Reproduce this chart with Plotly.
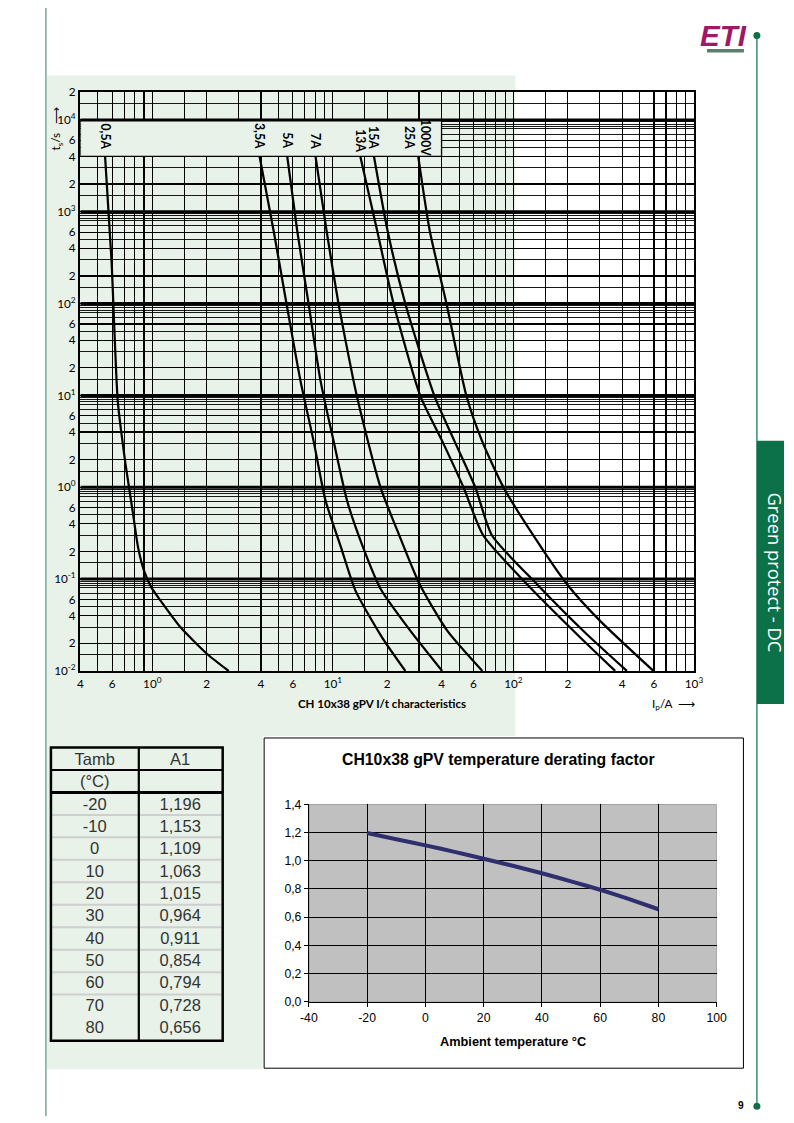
import plotly.graph_objects as go
import math

# The photographed page is mapped as screen = offset + scale * page; compensate so that
# every element lands on its position in the 794x1123 reference.
W, H = 794, 1123
SX, OX = 0.9775, 8.0
SY, OY = 0.986, 7.5
K = 1 / 0.98  # font / width compensation
def px(x): return (x - OX) / SX / W
def py(y): return 1 - (y - OY) / SY / H

# ---------------- Data: I/t characteristics (Ip in A, t in s) ----------------
ratings = ["0,5A", "3,5A", "5A", "7A", "13A", "15A", "1000V<br>25A"]

i_05 = [0.548, 0.595, 0.644, 0.707, 0.744, 0.783, 0.835, 0.901, 0.99, 1.114, 1.438, 2.02, 2.65]
t_05 = [4000, 292, 8.73, 1.94, 0.99, 0.509, 0.220, 0.1228, 0.0808, 0.0579, 0.02965, 0.0152, 0.01]

i_35 = [3.93, 4.70, 5.54, 6.62, 7.82, 9.12, 11.03, 13.36, 18.8, 25.2]
t_35 = [4000, 621, 99.6, 14.4, 3.2, 0.711, 0.230, 0.0744, 0.0229, 0.01]

i_5 = [5.59, 6.35, 7.34, 8.55, 10.09, 12.0, 14.6, 18.4, 26.9, 40.3]
t_5 = [4000, 621, 99.6, 14.4, 3.2, 0.711, 0.230, 0.0781, 0.0273, 0.01]

i_7 = [8.02, 9.23, 10.75, 13.02, 14.2, 18.4, 22.8, 30.2, 43.1, 67.3]
t_7 = [4000, 621, 99.6, 14.4, 6.79, 0.985, 0.335, 0.0886, 0.0273, 0.01]

i_13 = [14.2, 17.6, 21.7, 30.5, 40.3, 53.0, 68.0, 118.9, 224.8, 366]
t_13 = [4000, 621, 99.6, 9.9, 3.2, 0.99, 0.30, 0.088, 0.0251, 0.01]

i_15 = [16.9, 20.1, 25.2, 36.5, 47.1, 61.6, 76.0, 135, 255, 425]
t_15 = [4000, 621, 99.6, 9.9, 3.2, 0.99, 0.30, 0.088, 0.0251, 0.01]

i_25 = [29.7, 34.4, 42.6, 54.9, 67.0, 88.3, 135, 198, 302, 596]
t_25 = [4000, 621, 99.6, 9.9, 3.2, 0.99, 0.2606, 0.088, 0.0351, 0.01]

curves_i = [i_05, i_35, i_5, i_7, i_13, i_15, i_25]
curves_t = [t_05, t_35, t_5, t_7, t_13, t_15, t_25]

# tick labels of the log chart
x_tickvals = [0.4, 0.6, 1, 2, 4, 6, 10, 20, 40, 60, 100, 200, 400, 600, 1000]
x_ticktext = ["4", "6", "10<sup>0</sup>", "2", "4", "6", "10<sup>1</sup>", "2", "4", "6",
              "10<sup>2</sup>", "2", "4", "6", "10<sup>3</sup>"]
y_decades = [-2, -1, 0, 1, 2, 3, 4]
y_mant_labels = [2, 4, 6]
x_minor_mant = [1.5, 3, 5, 7, 8, 9]
y_minor_mant = [1.5, 3, 5, 7, 8, 8.5, 9, 9.5]

# ---------------- Data: temperature derating ----------------
tamb = [-20, -10, 0, 10, 20, 30, 40, 50, 60, 70, 80]
a1 = [1.196, 1.153, 1.109, 1.063, 1.015, 0.964, 0.911, 0.854, 0.794, 0.728, 0.656]
x2_ticks = [-40, -20, 0, 20, 40, 60, 80, 100]

# ---------------- styling ----------------
GREEN_BG = "#e8f2e8"
DARK_GREEN = "#0d6e48"
COND = "Lato, Liberation Sans Narrow, sans-serif"
ARIAL = "Liberation Sans, Arial, sans-serif"

y_tickvals, y_ticktext = [], []
for d in y_decades:
    y_tickvals.append(10 ** d)
    y_ticktext.append(f"10<sup>{d}</sup>")
    if d < 4:
        for m in y_mant_labels:
            y_tickvals.append(m * 10 ** d)
            y_ticktext.append(str(m))
y_tickvals.append(2e4)
y_ticktext.append("2")

x_minor = []
for d in [-1, 0, 1, 2]:
    for m in x_minor_mant:
        v = m * 10 ** d
        if 0.4 < v < 1000:
            x_minor.append(v)
y_minor = []
for d in [-2, -1, 0, 1, 2, 3, 4]:
    for m in y_minor_mant:
        v = m * 10 ** d
        if v < 2e4:
            y_minor.append(v)

fig = go.Figure()

for ii, tt in zip(curves_i, curves_t):
    fig.add_trace(go.Scatter(x=ii, y=tt, mode="lines", xaxis="x", yaxis="y",
                             line=dict(color="black", width=2.2 * K, shape="spline", smoothing=0.6),
                             hoverinfo="skip", showlegend=False))

fig.add_trace(go.Scatter(x=tamb, y=a1, mode="lines", xaxis="x2", yaxis="y2",
                         line=dict(color="#2f2f70", width=4 * K, shape="spline", smoothing=0.5),
                         hoverinfo="skip", showlegend=False))

TX0, TX1, TXM = 50, 222, 138
TY0, TY1 = 746.5, 1039.5
rh = 22.45
TSHIFT = 3
CELL_H = 22.35

fig.add_trace(go.Table(
    domain=dict(x=[px(TX0), px(TX1)], y=[py(TY1 - TSHIFT), py(TY0 - TSHIFT)]),
    columnwidth=[88, 84],
    header=dict(values=["Tamb", "A1"], height=CELL_H, align="center",
                fill=dict(color="rgba(0,0,0,0)"), line=dict(color="rgba(0,0,0,0)", width=0),
                font=dict(family=ARIAL, size=16.5, color="#333333")),
    cells=dict(values=[["(°C)"] + [str(t) for t in tamb],
                       [""] + [f"{v:.3f}".replace(".", ",") for v in a1]],
               height=CELL_H, align="center",
               fill=dict(color="rgba(0,0,0,0)"), line=dict(color="rgba(0,0,0,0)", width=0),
               font=dict(family=ARIAL, size=16.5, color="#333333")),
))

shapes = []
# page decorations
shapes.append(dict(type="rect", xref="paper", yref="paper", x0=px(46), x1=px(515), y0=py(735), y1=py(75),
                   fillcolor=GREEN_BG, line=dict(width=0), layer="below"))
shapes.append(dict(type="rect", xref="paper", yref="paper", x0=px(46), x1=px(262), y0=py(1068), y1=py(735),
                   fillcolor=GREEN_BG, line=dict(width=0), layer="below"))
shapes.append(dict(type="line", xref="paper", yref="paper", x0=px(45), x1=px(45), y0=0, y1=1,
                   line=dict(color="#2e7d5a", width=1), layer="below"))
shapes.append(dict(type="line", xref="paper", yref="paper", x0=px(757), x1=px(757), y0=py(1105), y1=py(35),
                   line=dict(color=DARK_GREEN, width=1.2), layer="below"))
for yc in [35, 1105]:
    shapes.append(dict(type="circle", xref="paper", yref="paper", x0=px(753.5), x1=px(760.5),
                       y0=py(yc + 3.5), y1=py(yc - 3.5), fillcolor=DARK_GREEN, line=dict(width=0)))
shapes.append(dict(type="rect", xref="paper", yref="paper", x0=px(757), x1=1, y0=py(703), y1=py(440),
                   fillcolor="#0c7049", line=dict(width=0), layer="below"))
shapes.append(dict(type="rect", xref="paper", yref="paper", x0=px(707), x1=px(744), y0=py(52), y1=py(48.5),
                   fillcolor="#5b7f6c", line=dict(width=0)))

# derating chart frame and plot area
shapes.append(dict(type="rect", xref="paper", yref="paper", x0=px(263.5), x1=px(743.5), y0=py(1067), y1=py(737),
                   fillcolor="white", line=dict(color="black", width=1), layer="below"))
shapes.append(dict(type="rect", xref="x2", yref="y2", x0=-40, x1=100, y0=0, y1=1.4,
                   fillcolor="#c0c0c0", line=dict(color="#808080", width=1), layer="below"))

# table rules
for k in range(3, 12):
    yy = TY0 + rh * k
    shapes.append(dict(type="line", xref="paper", yref="paper", x0=px(TX0 + 1), x1=px(TX1 - 1),
                       y0=py(yy), y1=py(yy), line=dict(color="#cfcfcf", width=2)))
shapes.append(dict(type="line", xref="paper", yref="paper", x0=px(TX0), x1=px(TX1),
                   y0=py(TY0 + rh), y1=py(TY0 + rh), line=dict(color="black", width=2)))
shapes.append(dict(type="line", xref="paper", yref="paper", x0=px(TX0), x1=px(TX1),
                   y0=py(TY0 + 2 * rh), y1=py(TY0 + 2 * rh), line=dict(color="black", width=3)))
shapes.append(dict(type="line", xref="paper", yref="paper", x0=px(TXM), x1=px(TXM),
                   y0=py(TY1), y1=py(TY0), line=dict(color="black", width=2.2)))
shapes.append(dict(type="rect", xref="paper", yref="paper", x0=px(TX0), x1=px(TX1),
                   y0=py(TY1), y1=py(TY0), line=dict(color="black", width=2.5)))

# log chart: label box and decade lines
shapes.append(dict(type="rect", xref="x", yref="y", x0=0.4, x1=40, y0=4000, y1=10000,
                   fillcolor=GREEN_BG, line=dict(color="black", width=1.3), layer="between"))
for d in y_decades[1:]:
    shapes.append(dict(type="line", xref="x", yref="y", x0=0.4, x1=1000, y0=10 ** d, y1=10 ** d,
                       line=dict(color="black", width=3), layer="between"))

def ann(text, x, y, size, family=COND, color="black", angle=0, xref="paper"):
    return dict(text=text, x=x, y=y, xref=xref, yref="paper", textangle=angle, showarrow=False,
                xanchor="center", yanchor="middle", font=dict(family=family, size=size * K, color=color))

annotations = []
label_y = [136, 135, 140, 140, 140, 137.5, 136.5]
for name, ii, ly in zip(ratings, curves_i, label_y):
    annotations.append(ann(f"<b>{name}</b>", math.log10(ii[0]), py(ly), 12, angle=90, xref="x"))
annotations += [
    ann("<b>CH 10x38 gPV I/t characteristics</b>", px(382), py(703), 11.3),
    ann("I<sub>p</sub>/A  ⟶", px(673), py(703), 11.5),
    ann("t<sub>s</sub>/s   ⟶", px(55), py(128), 11.5, angle=-90),
    ann("<b>CH10x38 gPV temperature derating factor</b>", px(498), py(759), 15.5, family=ARIAL),
    ann("<b>Ambient temperature °C</b>", px(513), py(1040), 12.5, family=ARIAL),
    ann("Green protect - DC", px(775.5), py(572), 18, family="Open Sans, sans-serif", color="white", angle=90),
    ann("<b><i>ETI</i></b>", px(724), py(35), 29, family=ARIAL, color="#9c1a68"),
    ann("<b>9</b>", px(741), py(1104), 10, family=ARIAL),
]

grid_kw = dict(showgrid=True, gridcolor="black", gridwidth=1.2, zeroline=False,
               showline=True, linecolor="black", linewidth=2.5, mirror=True, ticks="")

fig.update_layout(
    width=W, height=H, autosize=False, margin=dict(l=0, r=0, t=0, b=0),
    paper_bgcolor="white", plot_bgcolor="rgba(0,0,0,0)",
    separators=", ", showlegend=False, hovermode=False,
    xaxis=dict(type="log", range=[math.log10(0.4), 3], domain=[px(79.5), px(694)], anchor="y",
               tickmode="array", tickvals=x_tickvals, ticktext=x_ticktext,
               tickfont=dict(family=COND, size=11.5 * K, color="black"),
               minor=dict(tickmode="array", tickvals=x_minor, showgrid=True, gridcolor="black",
                          gridwidth=1.1, ticks=""),
               **grid_kw),
    yaxis=dict(type="log", range=[-2, math.log10(2e4)], domain=[py(670), py(91.7)], anchor="x",
               tickmode="array", tickvals=y_tickvals, ticktext=y_ticktext,
               tickfont=dict(family=COND, size=11.5 * K, color="black"),
               minor=dict(tickmode="array", tickvals=y_minor, showgrid=True, gridcolor="black",
                          gridwidth=0.9, ticks=""),
               **grid_kw),
    xaxis2=dict(range=[-40, 100], tickmode="array", tickvals=x2_ticks, ticktext=[str(v) for v in x2_ticks],
                domain=[px(308.3), px(716.7)], anchor="y2",
                showgrid=True, gridcolor="black", gridwidth=1, zeroline=False,
                showline=True, linecolor="black", linewidth=1, ticks="outside", ticklen=4,
                tickcolor="black", tickfont=dict(family=ARIAL, size=12 * K, color="black")),
    yaxis2=dict(range=[0, 1.4], tick0=0, dtick=0.2, tickformat=".1f", domain=[py(1000.7), py(803.3)],
                anchor="x2", showgrid=True, gridcolor="black", gridwidth=1, zeroline=False,
                showline=True, linecolor="black", linewidth=1, ticks="outside", ticklen=4,
                tickcolor="black", tickfont=dict(family=ARIAL, size=12 * K, color="black")),
    shapes=shapes, annotations=annotations,
)

fig.write_html("out.html", config=dict(displayModeBar=False, staticPlot=True, responsive=False),
               post_script="document.body.style.margin='0px';")
